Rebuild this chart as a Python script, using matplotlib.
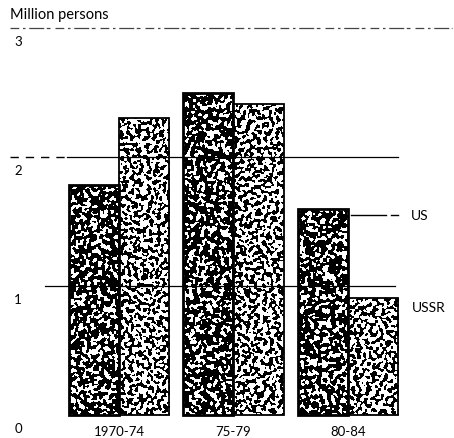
import numpy as np
import matplotlib
matplotlib.use("Agg")
import matplotlib.pyplot as plt
from matplotlib.transforms import offset_copy

# Emigration / population movement, million persons, by five-year period
periods = ["1970-74", "75-79", "80-84"]
us_values = [1.78, 2.50, 1.60]
ussr_values = [2.30, 2.41, 0.91]
y_ticks = [0, 1, 2, 3]
y_tick_labels = ["0", "1", "2", "3"]

plt.rcParams["font.family"] = ["Lato", "DejaVu Sans"]

fig = plt.figure(figsize=(4.54, 4.39), dpi=100)
ax = fig.add_axes([0, 0, 1, 1])
ax.set_xlim(-1.039, 2.926)
ax.set_ylim(-0.178, 3.225)
ax.axis("off")

PX_PER_X = 114.5
PX_PER_Y = 129.0
width = 0.437
x = np.arange(len(periods))


def gaussian_blur(a, sigma):
    r = int(3 * sigma) + 1
    k = np.exp(-0.5 * (np.arange(-r, r + 1) / sigma) ** 2)
    k /= k.sum()
    a = np.apply_along_axis(lambda v: np.convolve(v, k, mode="same"), 0, a)
    a = np.apply_along_axis(lambda v: np.convolve(v, k, mode="same"), 1, a)
    return a


def stipple(h_px, w_px, seed, dark):
    rng = np.random.default_rng(seed)
    pad = 12
    n = rng.standard_normal((h_px + 2 * pad, w_px + 2 * pad))
    if dark:
        # rounded white flecks on a black ground
        b = gaussian_blur(n, 1.1) - 0.5 * gaussian_blur(n, 3.0)
        b = b[pad:-pad, pad:-pad]
        img = (b > np.quantile(b, 0.66)).astype(float)
    else:
        # black worm-like squiggles on a white ground
        b = gaussian_blur(n, 1.1) - gaussian_blur(n, 2.8)
        b = b[pad:-pad, pad:-pad]
        img = (b > np.quantile(b, 0.46)).astype(float)
    return img


def textured_bars(xpos, heights, dark, seed0):
    bars = ax.bar(xpos, heights, width, facecolor="none", edgecolor="black",
                  linewidth=2.0 if dark else 1.3, zorder=3)
    for i, (rect, h) in enumerate(zip(bars, heights)):
        x0 = rect.get_x()
        h_px = max(int(round(h * PX_PER_Y)), 2)
        w_px = int(round(width * PX_PER_X))
        img = stipple(h_px, w_px, seed0 + i, dark)
        im = ax.imshow(img, cmap="gray", vmin=0, vmax=1, interpolation="nearest",
                       extent=(x0, x0 + width, 0, h), origin="lower",
                       aspect="auto", zorder=2)
        im.set_clip_path(rect)
    return bars


textured_bars(x - width / 2, us_values, True, 11)
textured_bars(x + width / 2, ussr_values, False, 41)
ax.set_xlim(-1.039, 2.926)
ax.set_ylim(-0.178, 3.225)

# Reference lines
ax.plot([-0.95, 2.91], [3, 3], color="#444444", lw=0.9,
        dashes=(7, 3, 2, 3, 12, 2, 3, 4), zorder=4)
ax.plot([-0.95, -0.45], [2, 2], color="black", lw=1.0, dashes=(6, 5), zorder=4)
ax.plot([-0.45, 2.44], [2, 2], color="black", lw=0.9, zorder=4)
ax.plot([-0.65, 2.41], [1, 1], color="black", lw=0.9, zorder=4)

# Y tick labels sit just below their reference lines
lab_tr = offset_copy(ax.transData, fig=fig, x=0, y=-13, units="dots")
for v, t in zip(y_ticks, y_tick_labels):
    ax.text(-0.88, v, t, transform=lab_tr, ha="center", va="center",
            fontsize=9.5, color="black")

# Period labels
xl_tr = offset_copy(ax.transData, fig=fig, x=0, y=-16, units="dots")
for xi, p in zip(x, periods):
    ax.text(xi, 0, p, transform=xl_tr, ha="center", va="center",
            fontsize=9.5, color="black")

# Series labels with leader line for US
us_lead_y = us_values[2] - 0.05
ax.plot([x[2] + 0.03, x[2] + 0.33], [us_lead_y, us_lead_y], color="black", lw=1.0, zorder=4)
ax.plot([x[2] + 0.38, x[2] + 0.44], [us_lead_y, us_lead_y], color="black", lw=1.0, zorder=4)
ax.text(x[2] + 0.55, us_lead_y, "US", ha="left", va="center", fontsize=10)
ax.text(x[2] + 0.56, ussr_values[2] - 0.07, "USSR", ha="left", va="center", fontsize=10)

fig.text(10 / 454, 1 - 15 / 439, "Million persons", ha="left", va="center", fontsize=10.5)

fig.savefig("out.png", dpi=100)
